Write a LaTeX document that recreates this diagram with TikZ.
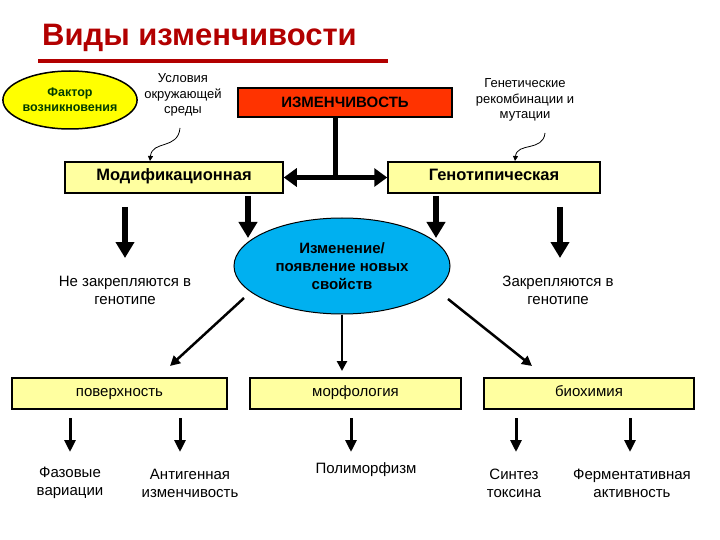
\documentclass[tikz,border=0pt]{standalone}
\usepackage{fontspec}
\setmainfont{Liberation Sans}
\usetikzlibrary{arrows.meta,shapes.geometric}
\definecolor{boxy}{RGB}{255,255,160}
\definecolor{titred}{RGB}{178,0,0}
\definecolor{redbox}{RGB}{255,51,0}
\definecolor{bluee}{RGB}{0,176,240}
\definecolor{ellyel}{RGB}{255,255,0}
\definecolor{dgreen}{RGB}{0,60,0}
\tikzset{
 ybox/.style={draw,line width=1.5pt,fill=boxy,minimum height=31pt,inner sep=0pt,text height=0.75em,text depth=0.2em},
 txt/.style={align=center,font=\fontsize{15}{18}\selectfont},
 thick arr/.style={line width=5.5pt,-{Triangle[length=16pt,width=18pt]}},
 thin arr/.style={line width=2.5pt,-{Triangle[length=10pt,width=10pt]}},
 mid arr/.style={line width=3pt,-{Triangle[length=12pt,width=11pt]}},
 squig/.style={line width=0.8pt,-{Triangle[length=5pt,width=5pt]}}
}
\begin{document}
\begin{tikzpicture}[x=1pt,y=-1pt]
\useasboundingbox (0,0) rectangle (720,540);
% title
\node[anchor=west,text=titred,font=\fontsize{31}{34}\selectfont\bfseries,inner sep=0pt] (title) at (42,38) {Виды изменчивости};
\draw[titred,line width=4pt] (38,61) -- (388,61);
% top row
\node[ellipse,draw,line width=1.5pt,fill=ellyel,minimum width=124pt,minimum height=58pt,inner sep=0pt,align=center,text=dgreen,font=\fontsize{12.5}{15}\selectfont\bfseries] (fak) at (70,100) {Фактор\\возникновения};
\node[txt,font=\fontsize{13}{15.5}\selectfont] (usl) at (183,95) {Условия\\окружающей\\среды};
\node[draw,line width=1.5pt,fill=redbox,minimum width=214pt,minimum height=29pt,inner sep=0pt,font=\fontsize{15}{17}\selectfont\bfseries] (izm) at (345,102.5) {ИЗМЕНЧИВОСТЬ};
\node[txt,font=\fontsize{13}{15.5}\selectfont] (gen) at (525,100) {Генетические\\рекомбинации и\\мутации};
% second row
\node[ybox,minimum width=218pt,font=\fontsize{16.5}{19}\selectfont\bfseries] (mod) at (174,177.5) {Модификационная};
\node[ybox,minimum width=212pt,font=\fontsize{16.5}{19}\selectfont\bfseries] (gty) at (494,177.5) {Генотипическая};
\coordinate (jn) at (335,177.5);
\draw[line width=5pt] (izm.south -| jn) -- (jn);
\draw[line width=5pt,{Triangle[length=13pt,width=18pt]}-{Triangle[length=13pt,width=18pt]}] (mod.east) -- (gty.west);
\draw[squig] (180,128) .. controls (178,150) and (152,140) .. (150,161);
\draw[squig] (545,133) .. controls (543,152) and (517,142) .. (515,161);
% ellipse
\node[ellipse,draw,line width=1pt,fill=bluee,minimum width=216pt,minimum height=96pt,inner sep=0pt,align=center,font=\fontsize{15}{18}\selectfont\bfseries] (new) at (342,266) {Изменение/\\появление новых\\свойств};
\draw[thick arr] (125,207) -- (125,258);
\draw[thick arr] (560,207) -- (560,258);
\draw[thick arr] (248,196) -- (248,238);
\draw[thick arr] (436,196) -- (436,238);
\node[txt] (nez) at (125,290) {Не закрепляются в\\генотипе};
\node[txt] (zak) at (558,290) {Закрепляются в\\генотипе};
% bottom boxes
\node[ybox,minimum width=215pt,font=\fontsize{15}{17}\selectfont] (pov) at (119.5,393.5) {поверхность};
\node[ybox,minimum width=211pt,font=\fontsize{15}{17}\selectfont] (mor) at (355.5,393.5) {морфология};
\node[ybox,minimum width=210pt,font=\fontsize{15}{17}\selectfont] (bio) at (589,393.5) {биохимия};
\draw[thin arr] (244,298) -- (170,366);
\draw[thin arr] (new.south) -- (342,371);
\draw[thin arr] (448,299) -- (532,366);
% leaves
\foreach \x/\n in {70/f1,180/f2,351/f3,516/f4,630/f5}{
  \coordinate (\n) at (\x,452);
  \draw[mid arr] (\x,418) -- (\n);}
\node[txt] (faz) at (70,483) {Фазовые\\вариации};
\node[txt] (ant) at (190,483) {Антигенная\\изменчивость};
\node[txt] (pol) at (366,470) {Полиморфизм};
\node[txt] (sin) at (514,483) {Синтез\\токсина};
\node[txt] (fer) at (632,483) {Ферментативная\\активность};
\end{tikzpicture}
\end{document}
